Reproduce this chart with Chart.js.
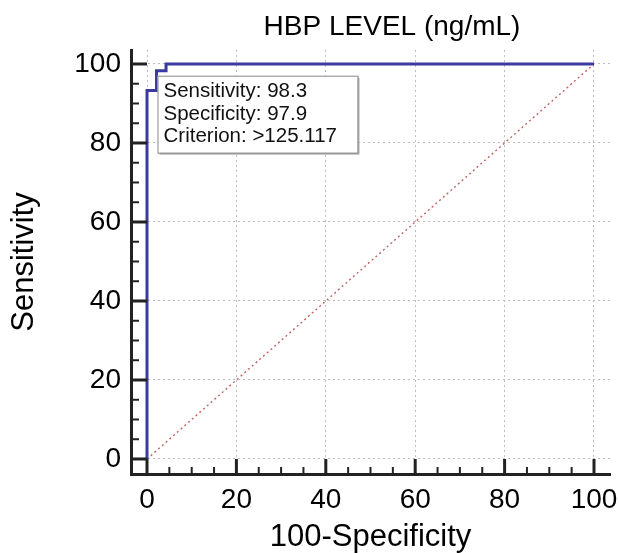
<!DOCTYPE html>
<html>
<head>
<meta charset="utf-8">
<script src="https://cdn.jsdelivr.net/npm/chart.js@4"></script>
<style>
  html, body { margin: 0; padding: 0; background: #fff; }
  #wrap { width: 619px; height: 553px; position: relative; }
</style>
</head>
<body>
<div id="wrap"><canvas id="roc"></canvas></div>
<script>
// --- Data ---
const rocFpr = [0, 0, 2.13, 2.13, 4.26, 4.26, 100];      // 100-Specificity
const rocTpr = [0, 93.3, 93.3, 98.3, 98.3, 100, 100];     // Sensitivity
const refX = [0, 100];
const refY = [0, 100];
const tickValues = [0, 20, 40, 60, 80, 100];
const minorStep = 5;
const criterionPoint = { x: 2.13, y: 98.3 };
const criterionLines = ['Sensitivity: 98.3', 'Specificity: 97.9', 'Criterion: >125.117'];
const chartTitle = 'HBP LEVEL (ng/mL)';

const FONT = "'Liberation Sans', Arial, sans-serif";

// --- Extra drawing: title, inward ticks, criterion box ---
const rocExtras = {
    id: 'rocExtras',
    afterDraw(chart) {
        const ctx = chart.ctx;
        const xs = chart.scales.x, ys = chart.scales.y;
        const area = chart.chartArea;
        ctx.save();

        // inward major/minor ticks
        ctx.strokeStyle = '#222';
        for (let v = tickValues[0]; v <= tickValues[tickValues.length - 1]; v += minorStep) {
            const major = tickValues.includes(v);
            ctx.lineWidth = major ? 3 : 2;
            const px = xs.getPixelForValue(v);
            ctx.beginPath();
            ctx.moveTo(px, area.bottom);
            ctx.lineTo(px, area.bottom - (major ? 15 : 7));
            ctx.stroke();
            const py = ys.getPixelForValue(v);
            ctx.beginPath();
            ctx.moveTo(area.left, py);
            ctx.lineTo(area.left + (major ? 16 : 8), py);
            ctx.stroke();
        }

        // criterion box anchored at the optimal point
        const bx = xs.getPixelForValue(criterionPoint.x) + 1;
        const by = ys.getPixelForValue(criterionPoint.y) + 5;
        const bw = 200, bh = 77;
        ctx.fillStyle = '#b5b5b5';
        ctx.fillRect(bx + 2, by + 2, bw, bh);
        ctx.fillStyle = '#fff';
        ctx.fillRect(bx, by, bw, bh);
        ctx.strokeStyle = '#8a8a8a';
        ctx.lineWidth = 1;
        ctx.strokeRect(bx + 0.5, by + 0.5, bw, bh);
        ctx.fillStyle = '#111';
        ctx.font = '20.5px ' + FONT;
        ctx.textBaseline = 'middle';
        ctx.textAlign = 'left';
        criterionLines.forEach((t, i) => ctx.fillText(t, bx + 6, by + 16 + i * 22.5));

        // chart title
        ctx.font = '28px ' + FONT;
        ctx.textAlign = 'center';
        ctx.textBaseline = 'alphabetic';
        ctx.fillStyle = '#000';
        ctx.fillText(chartTitle, 392, 35);
        ctx.restore();
    }
};

const axisGrid = {
    color: '#bdbdbd',
    lineWidth: 1,
    drawTicks: false
};

new Chart(document.getElementById('roc'), {
    type: 'line',
    data: {
        datasets: [
            {
                label: 'ROC',
                data: rocFpr.map((x, i) => ({ x, y: rocTpr[i] })),
                borderColor: '#3b3b9f',
                borderWidth: 3,
                pointRadius: 0,
                fill: false,
                tension: 0
            },
            {
                label: 'Reference',
                data: refX.map((x, i) => ({ x, y: refY[i] })),
                borderColor: '#c06464',
                borderWidth: 1.4,
                borderDash: [2, 3],
                pointRadius: 0,
                fill: false
            }
        ]
    },
    options: {
        responsive: true,
        maintainAspectRatio: false,
        animation: false,
        layout: { padding: { top: 50, right: 9, left: 0, bottom: 0 } },
        plugins: {
            legend: { display: false },
            tooltip: { enabled: false },
            title: { display: false }
        },
        scales: {
            x: {
                type: 'linear',
                min: -3.58,
                max: 103.58,
                afterBuildTicks: s => { s.ticks = tickValues.map(v => ({ value: v })); },
                afterFit: s => { s.height = 79; s.paddingLeft = 0; s.paddingRight = 0; },
                grid: axisGrid,
                border: { display: true, color: '#222', width: 3, dash: [2, 3] },
                ticks: {
                    padding: 9,
                    color: '#000',
                    font: { family: FONT, size: 28 },
                    maxRotation: 0
                },
                title: {
                    display: true,
                    text: '100-Specificity',
                    color: '#000',
                    font: { family: FONT, size: 31, lineHeight: 1 },
                    padding: { top: 0, bottom: 0 }
                }
            },
            y: {
                type: 'linear',
                min: -3.8,
                max: 103.54,
                afterBuildTicks: s => { s.ticks = tickValues.map(v => ({ value: v })); },
                afterFit: s => { s.width = 131; s.paddingTop = 0; s.paddingBottom = 0; },
                grid: axisGrid,
                border: { display: true, color: '#222', width: 3, dash: [2, 3] },
                ticks: {
                    padding: 10,
                    color: '#000',
                    font: { family: FONT, size: 28 }
                },
                title: {
                    display: true,
                    text: 'Sensitivity',
                    color: '#000',
                    font: { family: FONT, size: 31, lineHeight: 1 },
                    padding: { top: 9, bottom: 0 }
                }
            }
        }
    },
    plugins: [rocExtras]
});
</script>
</body>
</html>
